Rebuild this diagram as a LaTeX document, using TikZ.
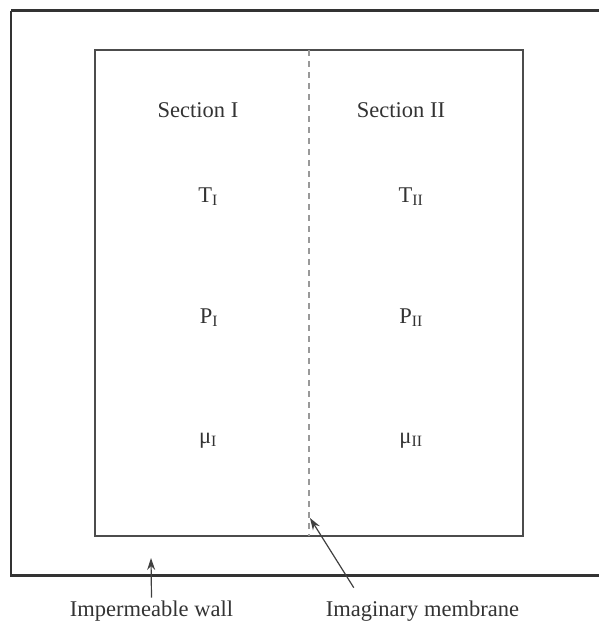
\documentclass[tikz,border=0pt]{standalone}
\usepackage{fontspec}
\setmainfont{Liberation Serif}
\usetikzlibrary{arrows.meta}

\begin{document}
\begin{tikzpicture}[x=1pt, y=-1pt,
		label/.style={anchor=base, text=black!80, inner sep=3pt, font=\fontsize{22.5}{27}\selectfont},
		wall/.style={draw=black!80, line width=2.5pt},
		box/.style={draw=black!70, line width=2pt},
		membrane/.style={draw=black!40, line width=2.2pt, dash pattern=on 6pt off 5pt},
		pointer/.style={draw=black!75, line width=1.2pt, -{Stealth[length=12pt, width=8pt]}}]
	\useasboundingbox (0,0) rectangle (598,622);
	% outer wall and the system inside it
	\draw[wall] (11,10.5) -- (610,10.5) (11,10.5) -- (11,575.5) -- (610,575.5);
	\draw[box] (94.7,50) rectangle (523,536);
	\draw[membrane] (309,50) -- (309,536);
	% properties of the two sections
	\node (secI)  at (198,117) [label] {Section I};
	\node (secII) at (401,117) [label] {Section II};
	\node (TI)    at (208,202) [label] {T\textsubscript{I}};
	\node (TII)   at (411,202) [label] {T\textsubscript{II}};
	\node (PI)    at (209,323) [label] {P\textsubscript{I}};
	\node (PII)   at (411,323) [label] {P\textsubscript{II}};
	\node (muI)   at (208,443) [label] {μ\textsubscript{I}};
	\node (muII)  at (411,443) [label] {μ\textsubscript{II}};
	% labels underneath
	\node (wall)  at (151.5,616.5) [label] {Impermeable wall};
	\node (imag)  at (422.5,616.5) [label] {Imaginary membrane};
	\coordinate (walltip) at (151,558);
	\coordinate (imagtip) at (310,518);
	% Draw the arrows to the wall and the membrane
	\draw[pointer] (wall.north) -- (walltip);
	\draw[pointer] ([xshift=31pt, yshift=10pt]imag.north west) -- (imagtip);
\end{tikzpicture}
\end{document}
